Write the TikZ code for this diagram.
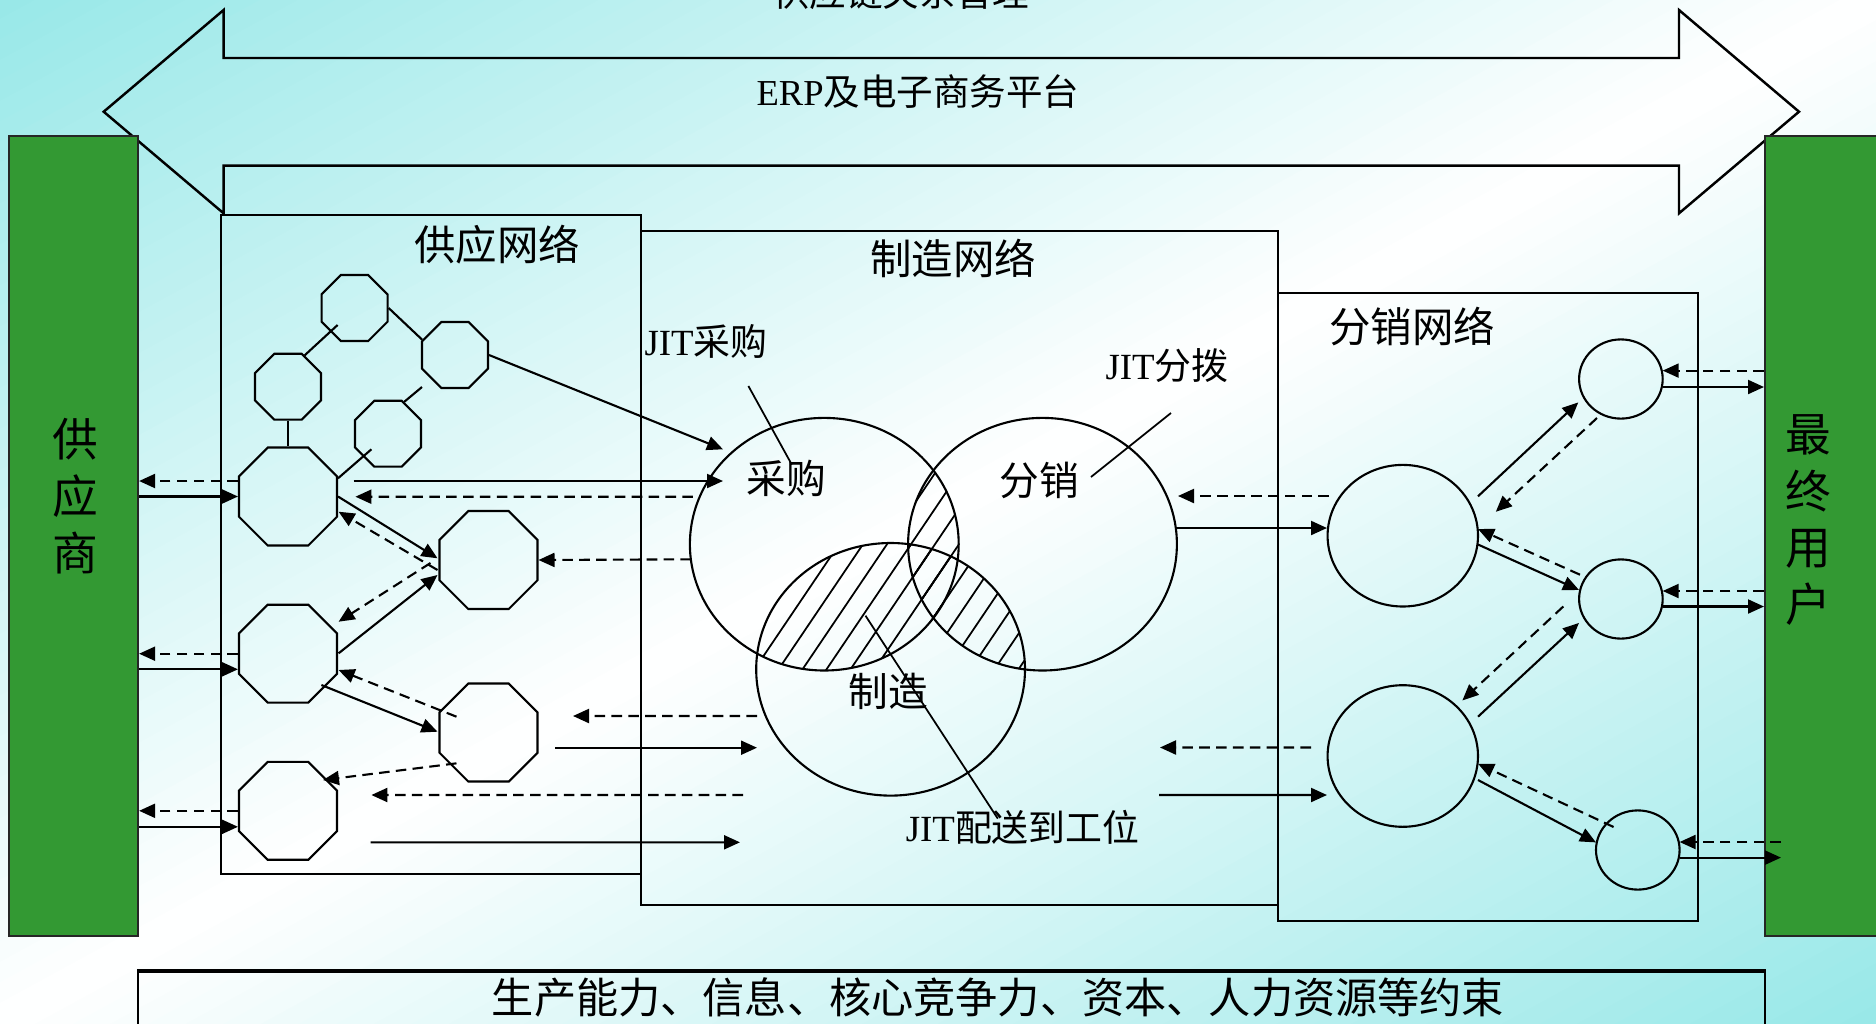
\documentclass[tikz,border=0pt]{standalone}
\usepackage{fontspec}
\setmainfont{Liberation Serif}
\newfontfamily\cjk{Noto Sans CJK SC}
\usetikzlibrary{arrows.meta,shapes.geometric,calc}
\definecolor{bgcyan}{RGB}{152,232,232}
\definecolor{grn}{RGB}{51,153,51}
\begin{document}
\begin{tikzpicture}[x=0.1mm,y=-0.1mm,
  ln/.style={line width=0.6pt},
  arr/.style={ln,-{Triangle[length=1.6mm,width=1.4mm]}},
  darr/.style={arr,dash pattern=on 3pt off 1.8pt},
  ptr/.style={line width=0.5pt},
  oct/.style={draw,ln,regular polygon,regular polygon sides=8,inner sep=0pt,minimum size=7.14mm},
  bigoct/.style={oct,minimum size=10.6mm},
  venn/.style={draw,ln,ellipse,inner sep=0pt,minimum width=26.88mm,minimum height=25.26mm},
  bigell/.style={draw,ln,ellipse,inner sep=0pt,minimum width=15.04mm,minimum height=14.16mm},
  smell/.style={draw,ln,ellipse,inner sep=0pt,minimum width=8.36mm,minimum height=7.92mm},
  netbox/.style={draw,line width=0.7pt,inner sep=0pt,anchor=north west},
  greenbox/.style={fill=grn,draw=black!85,line width=0.6pt,inner sep=0pt,anchor=north west},
  hatch/.style={line width=0.5pt},
  netlab/.style={font=\cjk\fontsize{11.8pt}{14pt}\selectfont,inner sep=0pt},
  vennlab/.style={font=\cjk\fontsize{11.3pt}{14pt}\selectfont,inner sep=0pt},
  jitlab/.style={font=\fontsize{10.5pt}{12pt}\selectfont,inner sep=0pt},
  toplab/.style={font=\fontsize{10.4pt}{12pt}\selectfont,inner sep=0pt},
  vertlab/.style={font=\cjk\fontsize{13pt}{16.2pt}\selectfont,align=center,inner sep=0pt}
]
\useasboundingbox (0,0) rectangle (1876,1023);
% background: diagonal gradient cyan - white - cyan
\begin{scope}
\clip (0,0) rectangle (1876,1023);
\begin{scope}[shift={(938,511.5)},rotate=28.6]
\foreach \i in {0,...,49}{
  \pgfmathsetmacro\p{(\i+0.5)*2}
  \fill[bgcyan!\p!white] (-1200,{\i*18}) rectangle (1200,{(\i+1)*18+1});
  \fill[bgcyan!\p!white] (-1200,{-\i*18}) rectangle (1200,{-(\i+1)*18-1});
}
\fill[bgcyan] (-1200,900) rectangle (1200,1200);
\fill[bgcyan] (-1200,-900) rectangle (1200,-1200);
\end{scope}
\end{scope}

% big double arrow
\draw[line width=0.7pt] (223.6,58) -- (223.6,10) -- (103.7,111.7) -- (223.6,213.3) -- (223.6,165.7)
  -- (1679,165.7) -- (1679,213.3) -- (1799,111.7) -- (1679,10) -- (1679,58) -- cycle;
\node[toplab,anchor=base] (tt) at (901,6) {\cjk 供应链关系管理};
\node[toplab] (erp) at (918,92) {ERP{\cjk 及电子商务平台}};

% network boxes
\node[netbox,minimum width=63.7mm,minimum height=67.4mm] (MN) at (640,230) {};
\node[netbox,minimum width=42mm,minimum height=65.9mm] (SN) at (220,214) {};
\node[netbox,minimum width=42mm,minimum height=62.8mm] (DN) at (1277,292) {};
\node[netlab] (snl) at (497,245) {供应网络};
\node[netlab] (mnl) at (953,258) {制造网络};
\node[netlab] (dnl) at (1412,327) {分销网络};

% green boxes
\node[greenbox,minimum width=12.9mm,minimum height=80mm] (SUP) at (8,135) {};
\node[greenbox,minimum width=11.6mm,minimum height=80mm] (EU) at (1764,135) {};
\node[vertlab] (supl) at (75.5,496) {供\\应\\商};
\node[vertlab] (eul) at (1808,520) {最\\终\\用\\户};

% bottom box
\node[draw,ln,inner sep=0pt,anchor=north west,minimum width=162.7mm,minimum height=8mm] (CB) at (137,970.7) {};
\draw[line width=1.1pt] (CB.north west) -- (CB.north east);
\node[font=\cjk\fontsize{12pt}{14pt}\selectfont,inner sep=0pt] (cbl) at (998,997) {生产能力、信息、核心竞争力、资本、人力资源等约束};

% octagons
\node[oct] (A) at (354.6,308) {};
\node[oct] (B) at (455,355) {};
\node[oct] (C) at (288,386.7) {};
\node[oct] (D) at (388,433.7) {};
\node[bigoct] (E) at (288,496.5) {};
\node[bigoct] (F) at (488.5,560) {};
\node[bigoct] (G) at (288,653.7) {};
\node[bigoct] (H) at (488.5,732.5) {};
\node[bigoct] (I) at (288,810.8) {};
\coordinate (Dstub) at (422,387);

\draw[ln] ($(A)+(-17,17)$) -- (C.62);
\draw[ln] (A.east) -- (B.155);
\draw[ln] (C.south) -- (E.north);
\draw[ln] (D.63) -- (Dstub);
\draw[ln] ($(D)+(-16.6,15.6)$) -- (E.20);

% Venn circles
\node[venn] (P) at (824.3,544.2) {};
\node[venn] (Q) at (1042.5,544.2) {};
\node[venn] (M) at (890.6,669.3) {};

\begin{scope}
\clip (P.center) ellipse [x radius=13.44mm, y radius=12.63mm];
\clip (M.center) ellipse [x radius=13.44mm, y radius=12.63mm];
\foreach \i in {0,...,34} \draw[hatch] ({430+24*\i},830) -- ++(310,-459);
\end{scope}
\begin{scope}
\clip (Q.center) ellipse [x radius=13.44mm, y radius=12.63mm];
\clip (M.center) ellipse [x radius=13.44mm, y radius=12.63mm];
\foreach \i in {0,...,34} \draw[hatch] ({430+24*\i},830) -- ++(310,-459);
\end{scope}
\begin{scope}
\clip (P.center) ellipse [x radius=13.44mm, y radius=12.63mm];
\clip (Q.center) ellipse [x radius=13.44mm, y radius=12.63mm];
\foreach \i in {0,...,34} \draw[hatch] ({430+24*\i},830) -- ++(310,-459);
\end{scope}

\node[vennlab] (pl) at (786,478) {采购};
\node[vennlab] (ql) at (1039,480) {分销};
\node[vennlab] (ml) at (888,691) {制造};

\node[jitlab] (jp) at (706,341) {JIT{\cjk 采购}};
\node[jitlab] (jf) at (1167,366) {JIT{\cjk 分拨}};
\node[jitlab] (jw) at (1022.7,827) {JIT{\cjk 配送到工位}};
\draw[ptr] ($(jp)+(42.4,45)$) -- ($(P)+(-32.5,-79.6)$);
\draw[ptr] ($(jf)+(4,47)$) -- ($(Q)+(48.5,-67.2)$);
\draw[ptr] ($(M)+(-25.1,-53.6)$) -- ($(jw)+(-24.9,-8.4)$);

% supply network arrows
\draw[arr] (B.east) -- ($(P)+(-101.3,-94.9)$);
\draw[arr] ($(E)+(65.6,-15.5)$) -- ($(P)+(-101.3,-63.2)$);
\draw[darr] ($(P)+(-131.4,-47.5)$) -- ($(E)+(67.4,0.2)$);
\draw[arr] (E.east) -- ($(F)+(-51,-1.7)$);
\draw[darr] ($(F)+(-51,10)$) -- ($(E)+(50.6,15.2)$);
\draw[darr] ($(P)+(-133.3,15.1)$) -- (F.east);
\draw[arr] ($(G)+(50.6,-0.4)$) -- ($(F)+(-51,15)$);
\draw[darr] ($(F)+(-58,3)$) -- ($(G)+(50.6,-32)$);
\draw[arr] ($(G)+(33.4,31.3)$) -- ($(H)+(-51,-0.8)$);
\draw[darr] ($(H)+(-32,-15.8)$) -- ($(G)+(50.6,16.3)$);
\draw[darr] ($(H)+(-32,30.8)$) -- ($(I)+(35,-30.8)$);
\draw[darr] ($(M)+(-147.6,125.7)$) -- ($(I)+(83.4,-15.8)$);
\draw[arr] ($(H)+(66.9,15.2)$) -- ($(M)+(-133.6,78.4)$);
\draw[arr] ($(I)+(82.7,31.5)$) -- ($(M)+(-150.6,173)$);
\draw[darr] ($(M)+(-133.6,46.7)$) -- ($(H)+(84.5,-16.5)$);

% supplier links
\coordinate (e1) at ($(E)+(0,-15.5)$);
\draw[darr] (e1 -| E.west) -- (e1 -| SUP.east);
\draw[arr] (E.west -| SUP.east) -- (E.west);
\coordinate (g1) at ($(G)+(0,15.6)$);
\draw[darr] (G.west) -- (G.west -| SUP.east);
\draw[arr] (g1 -| SUP.east) -- (g1 -| G.west);
\coordinate (i1) at ($(I)+(0,16)$);
\draw[darr] (I.west) -- (I.west -| SUP.east);
\draw[arr] (i1 -| SUP.east) -- (i1 -| I.west);

% distribution network
\node[bigell] (K1) at (1402.8,535.7) {};
\node[bigell] (K2) at (1402.8,756) {};
\node[smell] (S1) at (1620.9,379) {};
\node[smell] (S2) at (1620.9,599) {};
\node[smell] (S3) at (1637.8,850) {};

\draw[darr] ($(K1)+(-73.8,-39.7)$) -- ($(Q)+(135.5,-48.2)$);
\draw[arr] ($(Q)+(134.5,-16.2)$) -- ($(K1)+(-75.8,-7.7)$);
\draw[darr] ($(K2)+(-91.8,-8.5)$) -- ($(M)+(269.4,78.2)$);
\draw[arr] ($(M)+(268.4,125.7)$) -- ($(K2)+(-75.8,39)$);
\draw[arr] ($(K1)+(75.2,-39.4)$) -- ($(S1)+(-42.6,23.4)$);
\draw[darr] ($(S1)+(-23.9,39)$) -- ($(K1)+(93,-23.9)$);
\draw[darr] ($(S2)+(-40.9,-24.3)$) -- ($(K1)+(75.2,-6.7)$);
\draw[arr] ($(K1)+(75.2,8.8)$) -- ($(S2)+(-41.9,-9)$);
\draw[darr] ($(S2)+(-57.6,7.5)$) -- ($(K2)+(59.6,-55.6)$);
\draw[arr] ($(K2)+(75.2,-39.3)$) -- ($(S2)+(-41.9,23.9)$);
\draw[darr] ($(S3)+(-24.2,-23)$) -- ($(K2)+(75.2,7.7)$);
\draw[arr] ($(K2)+(75.2,24)$) -- ($(S3)+(-41.8,-7.6)$);

% end user links
\coordinate (u1) at ($(S1)+(41.8,-8.4)$);
\coordinate (u2) at ($(S1)+(41.8,8)$);
\coordinate (u3) at ($(S2)+(41.8,-8)$);
\coordinate (u4) at ($(S2)+(41.8,7.5)$);
\coordinate (u5) at ($(S3)+(41.8,-8)$);
\coordinate (u6) at ($(S3)+(41.8,7.6)$);
\draw[darr] (u1 -| EU.west) -- (u1);
\draw[arr] (u2) -- (u2 -| EU.west);
\draw[darr] (u3 -| EU.west) -- (u3);
\draw[arr] (u4) -- (u4 -| EU.west);
\draw[darr] ($(u5 -| EU.west)+(17,0)$) -- (u5);
\draw[arr] (u6) -- ($(u6 -| EU.west)+(17,0)$);
\end{tikzpicture}
\end{document}
